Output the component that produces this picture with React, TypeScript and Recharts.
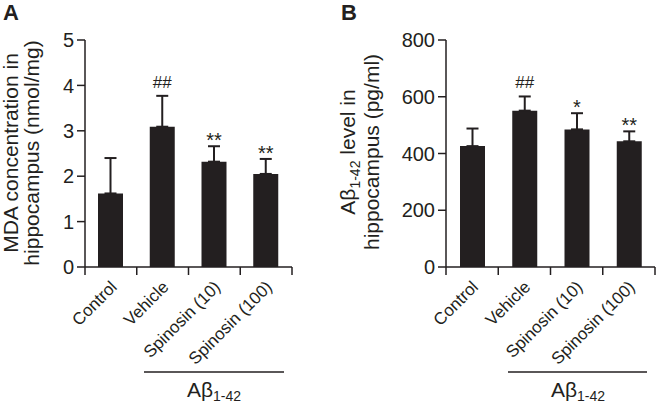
import React from "react";
import { Bar, ComposedChart, ErrorBar, LabelList, XAxis, YAxis } from "recharts";

const categories = ["Control", "Vehicle", "Spinosin (10)", "Spinosin (100)"];

// panel A: MDA (nmol/mg)
const mdaMean = [1.62, 3.09, 2.32, 2.05];
const mdaSem = [0.78, 0.68, 0.34, 0.33];
const mdaSig = ["", "##", "**", "**"];
const mdaTicks = [0, 1, 2, 3, 4, 5];

// panel B: Abeta 1-42 (pg/ml)
const abMean = [426, 551, 485, 443];
const abSem = [62, 50, 57, 35];
const abSig = ["", "##", "*", "**"];
const abTicks = [0, 200, 400, 600, 800];

const INK = "#231f20";
const FONT = "'Liberation Sans', Arial, Helvetica, sans-serif";

function makeRows(mean: number[], sem: number[], sig: string[]) {
  return categories.map((name, i) => ({
    name,
    value: mean[i],
    err: [0, sem[i]],
    sig: sig[i],
  }));
}

function Panel({
  left,
  width,
  yWidth,
  right,
  mean,
  sem,
  sig,
  ticks,
}: {
  left: number;
  width: number;
  yWidth: number;
  right: number;
  mean: number[];
  sem: number[];
  sig: string[];
  ticks: number[];
}) {
  const rows = makeRows(mean, sem, sig);
  const band = (width - yWidth - right) / categories.length;

  // Prism-style x axis: ticks on the band edges, labels rotated at band centres
  const CatTick = (p: any) => {
    const { x, y, payload, index } = p;
    const i = index ?? categories.indexOf(payload.value);
    return (
      <g>
        {i === 0 && (
          <line x1={x - band / 2} y1={y} x2={x - band / 2} y2={y + 8} stroke={INK} strokeWidth={1.5} />
        )}
        <line x1={x + band / 2} y1={y} x2={x + band / 2} y2={y + 8} stroke={INK} strokeWidth={1.5} />
        <g transform={`translate(${x + 7}, ${y + 21})`}>
          <text
            x={0}
            y={0}
            transform="rotate(-45)"
            textAnchor="end"
            fontSize={17}
            fontFamily={FONT}
            fill={INK}
          >
            {payload.value}
          </text>
        </g>
      </g>
    );
  };

  // significance marks sit just above the error bar cap
  const SigLabel = (p: any) => {
    const vb = p.viewBox || {};
    const x = p.x ?? vb.x;
    const y = p.y ?? vb.y;
    const w = p.width ?? vb.width;
    const h = p.height ?? vb.height;
    const i = p.index;
    const txt = sig[i];
    if (!txt || i == null) return null;
    const perUnit = h / mean[i];
    const capY = y - sem[i] * perUnit;
    const hash = txt.includes("#");
    return (
      <text
        x={x + w / 2}
        y={hash ? capY - 8 : capY + 1}
        textAnchor="middle"
        fontSize={hash ? 17 : 20}
        fontFamily={FONT}
        fill={INK}
      >
        {txt}
      </text>
    );
  };

  return (
    <div style={{ position: "absolute", left, top: 0 }}>
      <ComposedChart
        width={width}
        height={403}
        data={rows}
        margin={{ top: 40, right, bottom: 96, left: 0 }}
      >
        <XAxis
          dataKey="name"
          height={40}
          interval={0}
          tickSize={0}
          tickMargin={0}
          tickLine={false}
          axisLine={{ stroke: INK, strokeWidth: 1.5 }}
          tick={<CatTick />}
        />
        <YAxis
          width={yWidth}
          domain={[ticks[0], ticks[ticks.length - 1]]}
          ticks={ticks}
          interval={0}
          tickSize={8}
          tickMargin={3}
          axisLine={{ stroke: INK, strokeWidth: 1.5 }}
          tickLine={{ stroke: INK, strokeWidth: 1.5 }}
          tick={{ fill: INK, fontSize: 20, fontFamily: FONT }}
        />
        <Bar dataKey="value" fill={INK} barSize={25} isAnimationActive={false}>
          <ErrorBar dataKey="err" width={6} strokeWidth={2} stroke={INK} direction="y" />
          <LabelList dataKey="sig" content={<SigLabel />} />
        </Bar>
      </ComposedChart>
    </div>
  );
}

function Overlay() {
  const t = { fontFamily: FONT, fill: INK } as const;
  return (
    <svg
      width={656}
      height={403}
      style={{ position: "absolute", left: 0, top: 0, pointerEvents: "none" }}
    >
      <text x={3} y={20} fontSize={22} fontWeight="bold" {...t}>A</text>
      <text x={341} y={20} fontSize={22} fontWeight="bold" {...t}>B</text>

      <text x={18} y={153} transform="rotate(-90, 18, 153)" textAnchor="middle" fontSize={21} {...t}>
        MDA concentration in
      </text>
      <text x={38.5} y={153} transform="rotate(-90, 38.5, 153)" textAnchor="middle" fontSize={21} {...t}>
        hippocampus (nmol/mg)
      </text>

      <text x={355} y={152} transform="rotate(-90, 355, 152)" textAnchor="middle" fontSize={21} {...t}>
        Aβ<tspan fontSize={14} dy={5}>1-42</tspan>
        <tspan dy={-5}> level in</tspan>
      </text>
      <text x={379} y={152} transform="rotate(-90, 379, 152)" textAnchor="middle" fontSize={21} {...t}>
        hippocampus (pg/ml)
      </text>

      <line x1={144} y1={372} x2={284} y2={372} stroke={INK} strokeWidth={1.5} />
      <text x={214} y={397} textAnchor="middle" fontSize={21} {...t}>
        Aβ<tspan fontSize={14} dy={4}>1-42</tspan>
      </text>

      <line x1={508} y1={372} x2={647} y2={372} stroke={INK} strokeWidth={1.5} />
      <text x={578} y={397} textAnchor="middle" fontSize={21} {...t}>
        Aβ<tspan fontSize={14} dy={4}>1-42</tspan>
      </text>
    </svg>
  );
}

export default function App() {
  return (
    <div
      style={{
        position: "absolute",
        left: 0,
        top: 0,
        width: 656,
        height: 403,
        background: "#fff",
        fontFamily: FONT,
      }}
    >
      <Panel left={0} width={330} yWidth={85} right={38} mean={mdaMean} sem={mdaSem} sig={mdaSig} ticks={mdaTicks} />
      <Panel left={330} width={326} yWidth={116} right={1} mean={abMean} sem={abSem} sig={abSig} ticks={abTicks} />
      <Overlay />
    </div>
  );
}
